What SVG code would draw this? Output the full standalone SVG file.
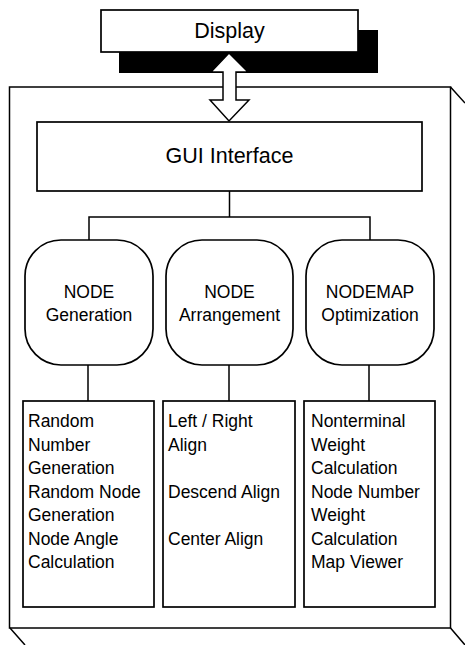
<svg xmlns="http://www.w3.org/2000/svg" width="465" height="645" viewBox="0 0 465 645">
<style>
.box{fill:#fff;stroke:#000;stroke-width:1.7}
.ln{fill:none;stroke:#000;stroke-width:1.5}
.t{font-family:"Liberation Sans",Arial,sans-serif;fill:#000}
.big{text-anchor:middle}
.mid{font-size:17.5px;text-anchor:middle}
.col{font-size:17.5px}
</style>
<rect width="465" height="645" fill="#fff"/>
<g id="frame">
<rect x="9.5" y="87" width="441" height="541" class="ln"/>
<path d="M450.5,87 L465,103 M10,628 L25,645 M450.5,628 L465,645" class="ln"/>
</g>
<g id="display">
<rect x="119" y="30" width="259" height="43" fill="#000"/>
<rect x="101" y="10" width="257" height="42" class="box"/>
<text x="229.5" y="38" class="t big" font-size="21.5">Display</text>
</g>
<g id="connectors">
<polygon points="229,53 211,72 223,72 223,100 210,100 229,121 249,100 236,100 236,72 248,72" fill="#fff" stroke="#000" stroke-width="1.5"/>
<path d="M229.5,191 V217 M89,240 V217 H370 V240 M88,365 V401 M229,365 V401 M369,365 V401" class="ln"/>
</g>
<g id="gui">
<rect x="37" y="122" width="385" height="69" class="box"/>
<text x="229.5" y="163" class="t big" font-size="21.5">GUI Interface</text>
</g>
<g id="node-generation">
<rect x="25" y="240" width="128" height="125" rx="36" class="box"/>
<text x="89" y="298" class="t mid">NODE</text>
<text x="89" y="321" class="t mid">Generation</text>
</g>
<g id="node-arrangement">
<rect x="166" y="240" width="127" height="125" rx="36" class="box"/>
<text x="229.5" y="298" class="t mid">NODE</text>
<text x="229.5" y="321" class="t mid">Arrangement</text>
</g>
<g id="nodemap-optimization">
<rect x="306" y="240" width="128" height="125" rx="36" class="box"/>
<text x="370" y="298" class="t mid">NODEMAP</text>
<text x="370" y="321" class="t mid">Optimization</text>
</g>
<g id="list-generation">
<rect x="23" y="401" width="131" height="206" class="box"/>
<text class="t col" x="28">
<tspan x="28" y="427">Random</tspan>
<tspan x="28" y="450.5">Number</tspan>
<tspan x="28" y="474">Generation</tspan>
<tspan x="28" y="497.5">Random Node</tspan>
<tspan x="28" y="521">Generation</tspan>
<tspan x="28" y="544.5">Node Angle</tspan>
<tspan x="28" y="568">Calculation</tspan>
</text>
</g>
<g id="list-arrangement">
<rect x="163" y="401" width="132" height="206" class="box"/>
<text class="t col" x="168">
<tspan x="168" y="427">Left / Right</tspan>
<tspan x="168" y="450.5">Align</tspan>
<tspan x="168" y="497.5">Descend Align</tspan>
<tspan x="168" y="544.5">Center Align</tspan>
</text>
</g>
<g id="list-optimization">
<rect x="304" y="401" width="131" height="206" class="box"/>
<text class="t col" x="311">
<tspan x="311" y="427">Nonterminal</tspan>
<tspan x="311" y="450.5">Weight</tspan>
<tspan x="311" y="474">Calculation</tspan>
<tspan x="311" y="497.5">Node Number</tspan>
<tspan x="311" y="521">Weight</tspan>
<tspan x="311" y="544.5">Calculation</tspan>
<tspan x="311" y="568">Map Viewer</tspan>
</text>
</g>
</svg>
